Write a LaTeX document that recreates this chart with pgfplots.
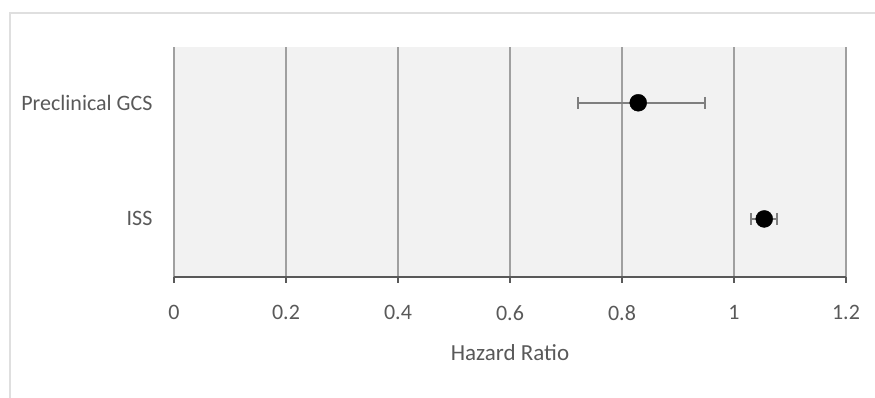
\documentclass[border=0pt]{standalone}
\usepackage{pgfplots}
\pgfplotsset{compat=1.18}
\usepackage{fontspec}
\setmainfont{Carlito}
\definecolor{txt}{HTML}{595959}
\definecolor{bg}{HTML}{F2F2F2}
\definecolor{gridc}{HTML}{A0A0A0}
\definecolor{errc}{HTML}{7F7F7F}
\begin{document}
\begin{tikzpicture}
\useasboundingbox (-174pt,-121pt) rectangle (701pt,277pt);
\draw[gray!25, line width=1.5pt] (-164pt,-121pt) -- (-164pt,264pt) -- (701pt,264pt);
\begin{axis}[
  at={(0,0)}, anchor=south west,
  scale only axis, width=672pt, height=230pt,
  xmin=0, xmax=1.2, ymin=0.5, ymax=2.48,
  xtick={0,0.2,...,1.2},
  ytick={1,2}, yticklabels={ISS, Preclinical GCS},
  axis background/.style={fill=bg},
  separate axis lines,
  axis x line*=bottom,
  axis y line*=left,
  x axis line style={draw=txt, line width=1.6pt, -},
  y axis line style={draw=none},
  xmajorgrids, major grid style={gridc, line width=1.3pt},
  tick style={draw=txt, line width=1.3pt},
  major tick length=6pt,
  tick align=outside,
  ytick style={draw=none},
  /pgf/number format/assume math mode=true,
  ticklabel style={font=\fontsize{22}{26}\selectfont, text=txt},
  xticklabel style={yshift=-19pt},
  yticklabel style={xshift=-12pt},
  xlabel={Hazard Ratio},
  xlabel style={font=\fontsize{23}{27}\selectfont, text=txt, yshift=-17pt},
  clip=false,
]
\addplot[only marks, mark=*, mark size=8.5pt, mark options={fill=black, draw=black},
  error bars/.cd, x dir=both, x explicit,
  error bar style={errc, line width=1.5pt},
  error mark options={rotate=90, mark size=6pt, errc, line width=1.5pt}]
  table[x=x, y=y, x error minus=em, x error plus=ep] {
  x     y  em     ep
  0.829 2  0.108  0.119
  1.054 1  0.024  0.023
};
\end{axis}
\end{tikzpicture}
\end{document}
